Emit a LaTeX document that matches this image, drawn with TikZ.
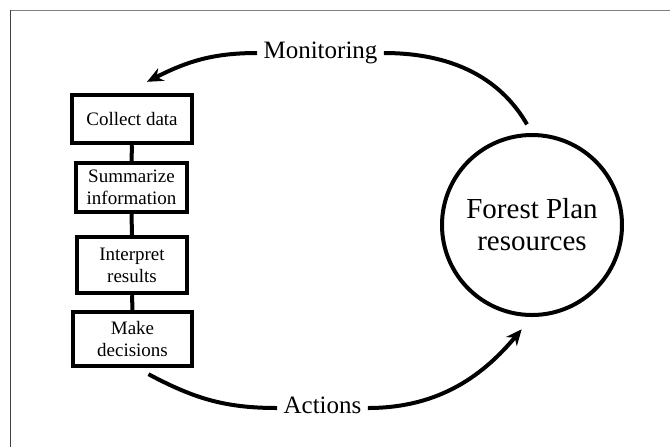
\documentclass[tikz,border=0pt]{standalone}
\usepackage{fontspec}
\setmainfont{Liberation Serif}
\usetikzlibrary{arrows.meta}

\begin{document}
\begin{tikzpicture}[x=0.5pt, y=-0.5pt,
        stage/.style={draw, line width=2.2pt, align=center, inner sep=0pt,
            font=\fontsize{9.5}{11}\selectfont},
        flow/.style={line width=2pt},
        loop/.style={line width=2pt, -{Stealth[length=8pt, width=7pt]}},
        phase/.style={inner sep=3pt, text height=9pt, text depth=4pt,
            font=\fontsize{12.5}{14}\selectfont}]
    \useasboundingbox (0,0) rectangle (670,447);

    % --- frame ---
    \draw[gray, line width=0.9pt] (10,10.5) -- (670,10.5);
    \draw[black!75, line width=0.9pt] (10.5,10) -- (10.5,447);

    % --- steps of monitoring ---
    \node[stage, minimum width=60pt, minimum height=24pt] (collect) at (132,119) {Collect data};
    \node[stage, minimum width=55.5pt, minimum height=24.5pt] (summarize) at (131.5,187.5) {Summarize\\information};
    \node[stage, minimum width=55pt, minimum height=28pt] (interpret) at (132,265) {Interpret\\results};
    \node[stage, minimum width=59.5pt, minimum height=27pt] (decide) at (132.5,339) {Make\\decisions};

    \foreach \a/\b in {collect/summarize, summarize/interpret, interpret/decide} {
        \draw[flow] (\a.south) -- (\b.north);
    }

    % --- resources ---
    \node[circle, draw, line width=2pt, minimum size=90pt, inner sep=0pt, align=center,
        font=\fontsize{14.5}{16}\selectfont] (forest) at (532,225) {Forest Plan\\resources};

    % --- cycle ---
    \node[phase] (monitor) at (320.5,53) {Monitoring};
    \node[phase] (act) at (322.5,408) {Actions};

    \draw[flow, shorten >=5pt] (monitor.east) to[out=0, in=120] (forest.north);
    \draw[loop] (monitor.west) to[out=180, in=27] ([xshift=7.5pt, yshift=5.5pt]collect.north);
    \draw[flow] ([xshift=8pt, yshift=-3pt]decide.south) to[out=-28, in=180] (act.west);
    \draw[loop, shorten >=8pt] (act.east) to[out=0, in=230] (forest.south);

\end{tikzpicture}
\end{document}
